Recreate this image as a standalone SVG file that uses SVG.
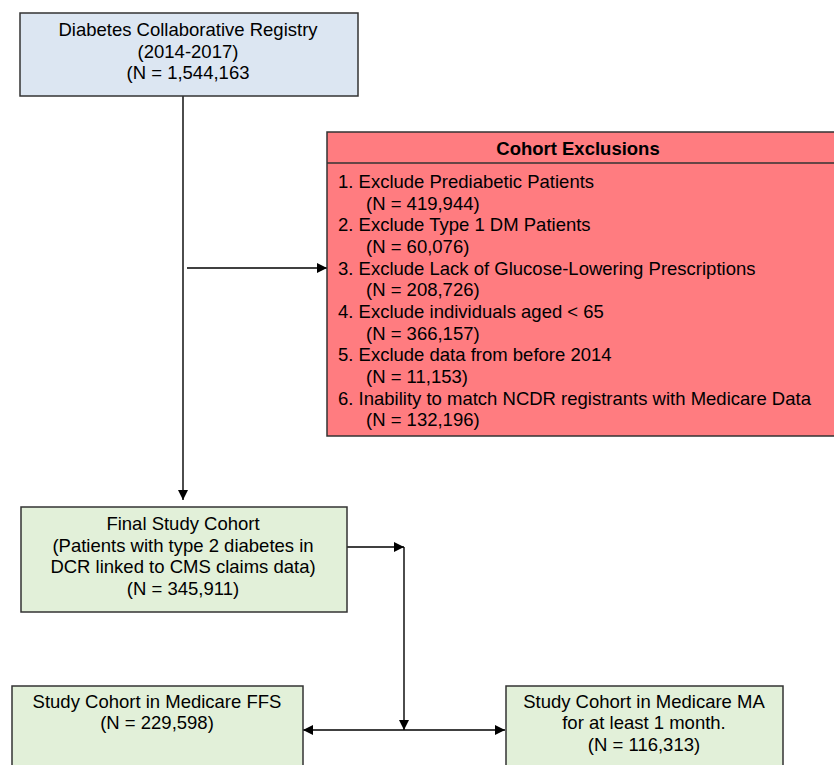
<svg xmlns="http://www.w3.org/2000/svg" width="834" height="765" viewBox="0 0 834 765">
<defs>
<style>
.box{stroke:#333;stroke-width:1.5}
.t{font-family:"Liberation Sans",Arial,sans-serif;font-size:18.5px;fill:#000}
.c{text-anchor:middle}
.b{font-weight:bold}
.ln{stroke:#000;stroke-width:1.4;fill:none}
</style>
<marker id="ah" viewBox="0 0 10 10" refX="10" refY="5" markerWidth="10" markerHeight="11" markerUnits="userSpaceOnUse" orient="auto-start-reverse">
<path d="M0,0 L10,5 L0,10 z" fill="#000"/>
</marker>
</defs>
<rect width="834" height="765" fill="#fff"/>
<g id="connectors">
<line class="ln" x1="183" y1="96" x2="183" y2="500" marker-end="url(#ah)"/>
<line class="ln" x1="187" y1="268" x2="327" y2="268" marker-end="url(#ah)"/>
<polyline class="ln" points="347,547 404,547" marker-end="url(#ah)"/>
<line class="ln" x1="404" y1="547" x2="404" y2="730" marker-end="url(#ah)"/>
<line class="ln" x1="303" y1="730" x2="505" y2="730" marker-start="url(#ah)" marker-end="url(#ah)"/>
</g>
<g id="registry">
<rect class="box" x="20" y="13" width="338" height="83" fill="#dce6f2"/>
<text class="t c" x="188" y="36">Diabetes Collaborative Registry</text>
<text class="t c" x="188" y="58">(2014-2017)</text>
<text class="t c" x="188" y="79">(N = 1,544,163</text>
</g>
<g id="exclusions">
<rect class="box" x="327" y="132" width="520" height="304" fill="#ff7c80"/>
<line class="box" x1="327" y1="163" x2="847" y2="163"/>
<text class="t c b" x="578" y="155">Cohort Exclusions</text>
<text class="t" x="338" y="188">1. Exclude Prediabetic Patients</text>
<text class="t" x="366" y="210">(N = 419,944)</text>
<text class="t" x="338" y="231">2. Exclude Type 1 DM Patients</text>
<text class="t" x="366" y="253">(N = 60,076)</text>
<text class="t" x="338" y="275">3. Exclude Lack of Glucose-Lowering Prescriptions</text>
<text class="t" x="366" y="296">(N = 208,726)</text>
<text class="t" x="338" y="318">4. Exclude individuals aged &lt; 65</text>
<text class="t" x="366" y="340">(N = 366,157)</text>
<text class="t" x="338" y="361">5. Exclude data from before 2014</text>
<text class="t" x="366" y="383">(N = 11,153)</text>
<text class="t" x="338" y="405">6. Inability to match NCDR registrants with Medicare Data</text>
<text class="t" x="366" y="426">(N = 132,196)</text>
</g>
<g id="final">
<rect class="box" x="21" y="507" width="326" height="105" fill="#e2f0d9"/>
<text class="t c" x="183" y="530">Final Study Cohort</text>
<text class="t c" x="183" y="552">(Patients with type 2 diabetes in</text>
<text class="t c" x="183" y="573">DCR linked to CMS claims data)</text>
<text class="t c" x="183" y="595">(N = 345,911)</text>
</g>
<g id="ffs">
<rect class="box" x="12" y="686" width="291" height="90" fill="#e2f0d9"/>
<text class="t c" x="157" y="708">Study Cohort in Medicare FFS</text>
<text class="t c" x="157" y="729">(N = 229,598)</text>
</g>
<g id="ma">
<rect class="box" x="506" y="686" width="277" height="90" fill="#e2f0d9"/>
<text class="t c" x="644" y="708">Study Cohort in Medicare MA</text>
<text class="t c" x="644" y="729">for at least 1 month.</text>
<text class="t c" x="644" y="751">(N = 116,313)</text>
</g>
</svg>
